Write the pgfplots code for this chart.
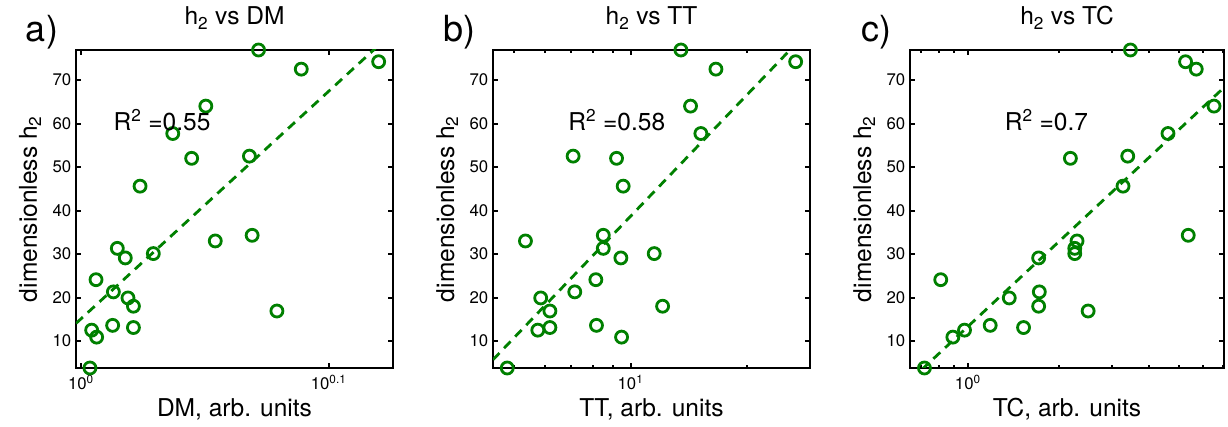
\documentclass[border=0pt]{standalone}
\usepackage{fontspec}
\setmainfont{TeX Gyre Heros}
\usepackage{pgfplots}
\pgfplotsset{compat=1.18}
\definecolor{mgreen}{RGB}{0,128,0}
\pgfplotsset{
  panel/.style={
    scale only axis, height=238.5pt, anchor=south west,
    ymin=3.8, ymax=76.9,
    ytick={10,20,30,40,50,60,70},
    tick align=inside,
    major tick length=4pt, minor tick length=2.4pt,
    every tick/.style={black, line width=1.5pt},
    axis line style={line width=2pt},
    clip mode=individual,
    every axis title shift=0pt,
    /pgf/number format/assume math mode=true,
    xticklabel style={font=\fontsize{12.6}{13}\selectfont, yshift=-2pt},
    yticklabel style={font=\fontsize{12.6}{13}\selectfont},
    title style={font=\fontsize{18.4}{20}\selectfont, at={(axis description cs:0.5,1)}, anchor=base, yshift=18.75pt},
    xlabel style={font=\fontsize{18.4}{20}\selectfont, at={(axis description cs:0.5,0)}, anchor=base, yshift=-36.75pt},
    ylabel style={font=\fontsize{18.4}{20}\selectfont, at={(axis description cs:0,0.5)}, anchor=base, yshift=29.25pt},
    ylabel={dimensionless h\textsubscript{2}},
  },
  pts/.style={only marks, mark=o, mgreen, mark size=4.5pt, mark options={line width=2.1pt}},
  fit/.style={mgreen, line width=2.1pt, dash pattern=on 7pt off 5pt},
}
\begin{document}
\begin{tikzpicture}
\useasboundingbox (0,0) rectangle (921pt,320.25pt);
% ---------------- a) ----------------
\begin{semilogxaxis}[panel, at={(57pt,44.25pt)}, width=237.75pt,
  xmin=0.9954, xmax=1.3366,
  xtick={1,1.258925}, xticklabels={10\textsuperscript{0},10\textsuperscript{0.1}},
  minor xtick={},
  title={h\textsubscript{2} vs DM}, xlabel={DM, arb. units}]
\addplot[fit] coordinates {(0.9954,14.05) (1.3366,81.0)};
\addplot[pts] coordinates {
(1.0084,3.8) (1.0100,12.5) (1.0147,10.9) (1.0141,24.1) (1.0299,13.6)
(1.0306,21.3) (1.0344,31.3) (1.0421,29.1) (1.0447,19.9) (1.0500,18.0)
(1.0500,13.1) (1.0565,45.6) (1.0696,30.1) (1.0891,57.7) (1.1084,52.0)
(1.1231,64.0) (1.1330,33.0) (1.1696,52.5) (1.1725,34.3) (1.1795,76.9)
(1.1998,16.9) (1.2273,72.5) (1.3189,74.2)};
\node[anchor=west, inner sep=0pt, font=\fontsize{18.4}{20}\selectfont] at (axis cs:1.0306,60.8) {R\textsuperscript{2} =0.55};
\node[anchor=base, inner sep=0pt, font=\fontsize{27}{28}\selectfont] at (rel axis cs:0,1) [xshift=-25.5pt, yshift=6pt] {a)};
\end{semilogxaxis}
% ---------------- b) ----------------
\begin{semilogxaxis}[panel, at={(369.75pt,44.25pt)}, width=237.75pt,
  xmin=4.40, xmax=29.2,
  xtick={10}, xticklabels={10\textsuperscript{1}},
  minor xtick={5,6,7,8,9,20},
  title={h\textsubscript{2} vs TT}, xlabel={TT, arb. units}]
\addplot[fit] coordinates {(4.40,5.70) (29.2,81.7)};
\addplot[pts] coordinates {
(4.79,3.8) (5.75,12.5) (6.18,13.1) (6.18,16.9) (5.85,19.9)
(7.17,21.3) (5.34,33.0) (8.13,24.1) (8.16,13.6) (8.50,34.3)
(8.50,31.3) (9.44,29.1) (9.48,10.9) (9.57,45.6) (9.20,52.0)
(7.10,52.5) (11.52,30.1) (12.11,18.0) (13.51,76.9) (14.31,64.0)
(15.22,57.7) (16.65,72.5) (26.8,74.2)};
\node[anchor=west, inner sep=0pt, font=\fontsize{18.4}{20}\selectfont] at (axis cs:6.89,60.8) {R\textsuperscript{2} =0.58};
\node[anchor=base, inner sep=0pt, font=\fontsize{27}{28}\selectfont] at (rel axis cs:0,1) [xshift=-25.5pt, yshift=6pt] {b)};
\end{semilogxaxis}
% ---------------- c) ----------------
\begin{semilogxaxis}[panel, at={(682.5pt,44.25pt)}, width=235.5pt,
  xmin=0.643, xmax=7.07,
  xtick={1}, xticklabels={10\textsuperscript{0}},
  minor xtick={0.7,0.8,0.9,2,3,4,5,6,7},
  title={h\textsubscript{2} vs TC}, xlabel={TC, arb. units}]
\addplot[fit] coordinates {(0.643,0.91) (7.07,68.27)};
\addplot[pts] coordinates {
(0.718,3.8) (0.813,24.1) (0.892,10.9) (0.975,12.5) (1.186,13.6)
(1.372,19.9) (1.530,13.1) (1.717,29.1) (1.726,21.3) (1.717,18.0)
(2.188,52.0) (2.262,30.1) (2.262,31.3) (2.302,33.0) (2.505,16.9)
(3.27,45.6) (3.39,52.5) (3.46,76.9) (4.61,57.7) (5.27,74.2)
(5.38,34.3) (5.72,72.5) (6.55,64.0)};
\node[anchor=west, inner sep=0pt, font=\fontsize{18.4}{20}\selectfont] at (axis cs:1.324,60.8) {R\textsuperscript{2} =0.7};
\node[anchor=base, inner sep=0pt, font=\fontsize{27}{28}\selectfont] at (rel axis cs:0,1) [xshift=-25.5pt, yshift=6pt] {c)};
\end{semilogxaxis}
\end{tikzpicture}
\end{document}
